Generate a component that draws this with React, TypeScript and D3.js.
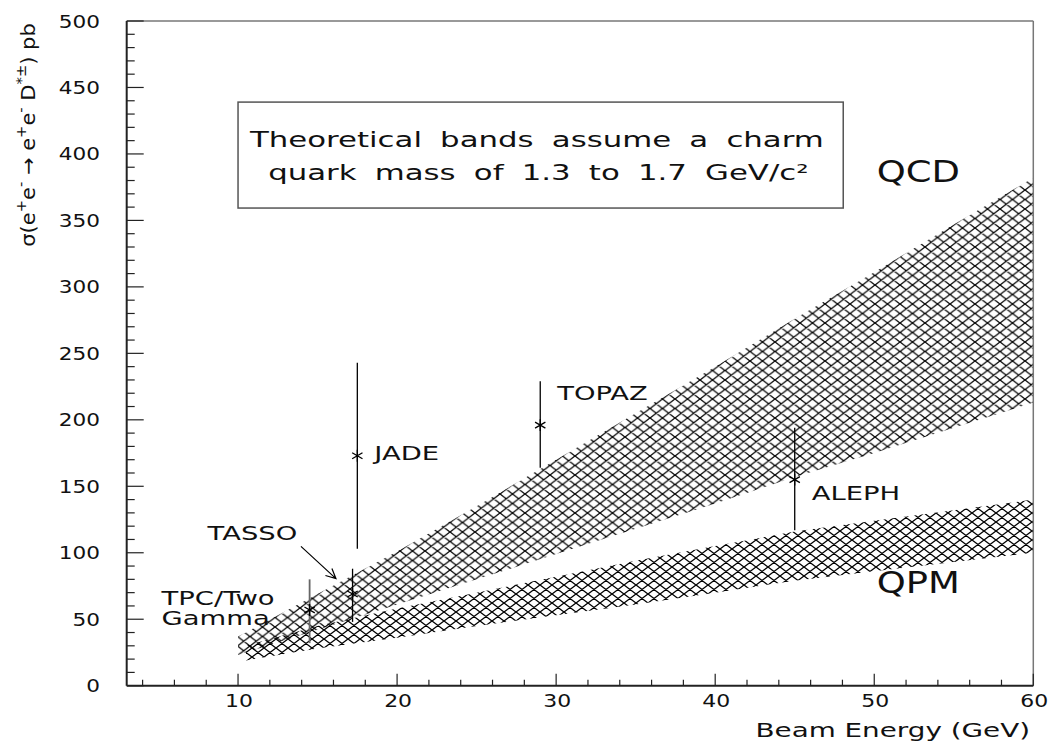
import React from "react";
import * as d3 from "d3";

// theory bands: sigma (pb) vs beam energy (GeV)
const qcdEnergy = [10, 15, 20, 25, 30, 35, 40, 45, 50, 55, 60];
const qcdUpper = [37, 69, 101, 135, 170, 205, 240, 276, 311, 347, 382];
const qcdLower = [23, 42, 61, 80, 99, 118, 137, 157, 175, 194, 213];

const qpmEnergy = [10.5, 15, 20, 25, 30, 35, 40, 45, 50, 55, 60];
const qpmUpper = [30, 45, 58, 70, 82, 94, 105, 116, 124, 132, 140];
const qpmLower = [19, 28, 36, 45, 53, 61, 70, 79, 86, 93, 100];

// measurements
const expNames = [["TPC/Two", "Gamma"], ["TASSO"], ["JADE"], ["TOPAZ"], ["ALEPH"]];
const expEnergy = [14.5, 17.2, 17.5, 29.0, 45.0];
const expSigma = [57, 69, 173, 196, 155];
const expHigh = [80, 88, 243, 229, 194];
const expLow = [32, 48, 103, 164, 117];

const xMajor = [10, 20, 30, 40, 50, 60];
const yMajor = [0, 50, 100, 150, 200, 250, 300, 350, 400, 450, 500];

const boxLines = ["Theoretical bands assume a charm", " quark mass of 1.3 to 1.7 GeV/c\u00b2"];

// layout
const W = 1050;
const H = 746;
const plot = { left: 126.7, right: 1033.3, top: 21, bottom: 685.7 };
const FONT = "'DejaVu Sans', sans-serif";
const INK = "#111";
// label offsets in px from the marker
const labelOffset = [
  { dx: -148, dy: -5 },
  { dx: -145, dy: -54 },
  { dx: 17, dy: 4 },
  { dx: 17, dy: -25 },
  { dx: 17, dy: 20 },
];

type TxtProps = {
  x: number;
  y: number;
  size: number;
  sx?: number;
  anchor?: "start" | "middle" | "end";
  rotate?: number;
  wordSpacing?: number;
  children: React.ReactNode;
};

const Txt = ({ x, y, size, sx = 1, anchor = "start", rotate = 0, wordSpacing, children }: TxtProps) => (
  <text
    transform={`translate(${x},${y}) rotate(${rotate}) scale(${sx},1)`}
    fontSize={size}
    fontFamily={FONT}
    textAnchor={anchor}
    fill={INK}
    style={{ whiteSpace: "pre", wordSpacing: wordSpacing }}
  >
    {children}
  </text>
);

const hatchPath = (w: number, h: number) =>
  [-w, 0, w]
    .map((o) => `M${o},0L${o + w},${h}M${o},${h}L${o + w},0`)
    .join("");

export default function App() {
  const x = d3.scaleLinear().domain([3, 60]).range([plot.left, plot.right]);
  const y = d3.scaleLinear().domain([0, 500]).range([plot.bottom, plot.top]);

  const band = (e: number[], lo: number[], hi: number[]) =>
    d3
      .area<number>()
      .x((_, i) => x(e[i]))
      .y0((_, i) => y(lo[i]))
      .y1((_, i) => y(hi[i]))(e) || "";

  const xMinor = d3.range(4, 60, 2).filter((v) => v % 10 !== 0);
  const yMinor = d3.range(10, 500, 10).filter((v) => v % 50 !== 0);

  const star = d3.symbol().type(d3.symbolAsterisk).size(100)() || "";

  // TASSO arrow (px offsets from its marker)
  const tx = x(expEnergy[1]);
  const ty = y(expSigma[1]);
  const a0 = [tx - 51.6, ty - 47.6];
  const a1 = [tx - 16.6, ty - 15.3];
  const ang = Math.atan2(a1[1] - a0[1], a1[0] - a0[0]);
  const head = [ang + Math.PI - 0.45, ang + Math.PI + 0.45].map((t) => [
    a1[0] + 11 * Math.cos(t),
    a1[1] + 11 * Math.sin(t),
  ]);

  const bx0 = x(10);
  const bx1 = x(48.05);
  const by0 = y(439);
  const by1 = y(359.3);

  return (
    <svg
      width={W}
      height={H}
      style={{ position: "absolute", left: 0, top: 0, background: "#fff" }}
    >
      <defs>
        <pattern id="hQCD" patternUnits="userSpaceOnUse" width={12.5} height={9.5}>
          <path d={hatchPath(12.5, 9.5)} stroke="#000" strokeWidth={1.3} fill="none" />
        </pattern>
        <pattern id="hQPM" patternUnits="userSpaceOnUse" width={12} height={9}>
          <path d={hatchPath(12, 9)} stroke="#000" strokeWidth={1.3} fill="none" />
        </pattern>
      </defs>

      {/* bands */}
      <path d={band(qcdEnergy, qcdLower, qcdUpper)} fill="url(#hQCD)" />
      <path d={band(qpmEnergy, qpmLower, qpmUpper)} fill="url(#hQPM)" />

      {/* frame */}
      <line x1={plot.left} x2={plot.right} y1={plot.top} y2={plot.top} stroke="#777" strokeWidth={1.5} />
      <line x1={plot.right} x2={plot.right} y1={plot.top} y2={plot.bottom} stroke="#777" strokeWidth={1.5} />
      <line x1={plot.left} x2={plot.left} y1={plot.top} y2={plot.bottom} stroke="#222" strokeWidth={2} />
      <line x1={plot.left} x2={plot.right} y1={plot.bottom} y2={plot.bottom} stroke="#222" strokeWidth={2} />

      {/* ticks */}
      {yMajor.map((v) => (
        <g key={"ym" + v}>
          <line x1={plot.left} x2={plot.left + 17} y1={y(v)} y2={y(v)} stroke="#222" strokeWidth={1.2} />
          <Txt x={100} y={y(v) + 6.5} size={18} sx={1.2} anchor="end">
            {v}
          </Txt>
        </g>
      ))}
      {yMinor.map((v) => (
        <line key={"yn" + v} x1={plot.left} x2={plot.left + 8} y1={y(v)} y2={y(v)} stroke="#222" strokeWidth={1.2} />
      ))}
      {xMajor.map((v) => (
        <g key={"xm" + v}>
          <line x1={x(v)} x2={x(v)} y1={plot.bottom} y2={plot.bottom - 12} stroke="#222" strokeWidth={1.2} />
          <Txt x={x(v) + 1} y={707} size={18} sx={1.22} anchor="middle">
            {v}
          </Txt>
        </g>
      ))}
      {xMinor.map((v) => (
        <line key={"xn" + v} x1={x(v)} x2={x(v)} y1={plot.bottom} y2={plot.bottom - 6} stroke="#222" strokeWidth={1.2} />
      ))}

      {/* axis titles */}
      <Txt x={1030} y={737} size={20} sx={1.39} anchor="end">
        Beam Energy (GeV)
      </Txt>
      <text
        transform={`translate(35,135) rotate(-90) scale(1.05,1)`}
        fontSize={20}
        fontFamily={FONT}
        textAnchor="middle"
        fill={INK}
      >
        <tspan>σ(e</tspan>
        <tspan dy={-9} fontSize={14}>+</tspan>
        <tspan dy={9}>e</tspan>
        <tspan dy={-9} fontSize={14}>-</tspan>
        <tspan dy={9}> → e</tspan>
        <tspan dy={-9} fontSize={14}>+</tspan>
        <tspan dy={9}>e</tspan>
        <tspan dy={-9} fontSize={14}>-</tspan>
        <tspan dy={9}> D</tspan>
        <tspan dy={-9} fontSize={14}>*±</tspan>
        <tspan dy={9}>) pb</tspan>
      </text>

      {/* note box */}
      <rect x={bx0} y={by0} width={bx1 - bx0} height={by1 - by0} fill="none" stroke="#555" strokeWidth={1.5} />
      {boxLines.map((s, i) => (
        <Txt key={s} x={x(10.75)} y={147 + i * 33} size={22} sx={1.4} wordSpacing={6}>
          {s}
        </Txt>
      ))}

      {/* band names */}
      <Txt x={x(50.15)} y={y(379)} size={30} sx={1.23}>
        QCD
      </Txt>
      <Txt x={x(50.15)} y={y(69.7)} size={30} sx={1.23}>
        QPM
      </Txt>

      {/* measurements */}
      {expEnergy.map((e, i) => {
        const px = x(e);
        const py = y(expSigma[i]);
        const grey = i === 0;
        return (
          <g key={"exp" + i}>
            <line
              x1={px}
              x2={px}
              y1={y(expHigh[i])}
              y2={y(expLow[i])}
              stroke={grey ? "#666" : "#000"}
              strokeWidth={grey ? 1.8 : 1.3}
            />
            <path d={star} transform={`translate(${px},${py})`} stroke="#000" strokeWidth={1.3} fill="none" />
            {expNames[i].map((s, j) => (
              <Txt key={s} x={px + labelOffset[i].dx} y={py + labelOffset[i].dy + j * 20} size={20} sx={1.37}>
                {s}
              </Txt>
            ))}
          </g>
        );
      })}

      {/* TASSO arrow */}
      <path
        d={`M${a0[0]},${a0[1]}L${a1[0]},${a1[1]}M${head[0][0]},${head[0][1]}L${a1[0]},${a1[1]}L${head[1][0]},${head[1][1]}`}
        stroke="#000"
        strokeWidth={1.2}
        fill="none"
      />
    </svg>
  );
}
